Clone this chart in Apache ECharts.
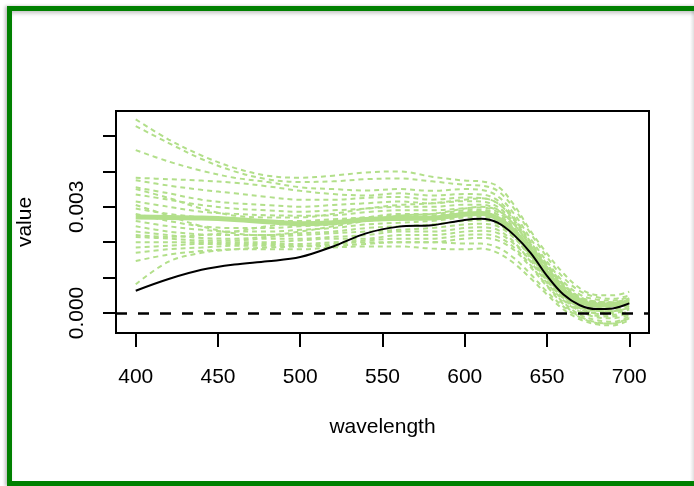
<!DOCTYPE html>
<html>
<head>
<meta charset="utf-8">
<script src="https://cdn.jsdelivr.net/npm/echarts@6/dist/echarts.min.js"></script>
<style>
  html, body { margin:0; padding:0; background:#fff; }
  #wrap { position:relative; width:694px; height:486px; overflow:hidden; background:#fff; }
  #frame { position:absolute; left:7px; top:6px; width:800px; height:470px;
           border:5px solid #008000; box-shadow: -2px 0 3px rgba(0,0,0,0.25), inset 0 4px 4px -2px rgba(0,0,0,0.25); }
  #rshade { position:absolute; left:690px; top:11px; width:4px; height:470px;
            background:linear-gradient(to right, rgba(0,0,0,0), rgba(0,0,0,0.12)); }
  #chart { position:absolute; left:0; top:0; width:694px; height:486px; }
</style>
</head>
<body>
<div id="wrap">
  <div id="frame"></div>
  <div id="rshade"></div>
  <div id="chart"></div>
</div>
<script>
// wavelengths (nm)
const wavelengths = [400,420,440,460,480,500,520,540,560,580,600,610,620,630,640,650,660,670,680,690,700];

// values in units of 0.001
const blackValues = [0.63,0.96,1.22,1.37,1.46,1.58,1.88,2.25,2.44,2.48,2.63,2.66,2.55,2.20,1.70,1.05,0.52,0.22,0.11,0.13,0.27];
const meanValues  = [2.71,2.70,2.68,2.64,2.58,2.52,2.55,2.64,2.67,2.68,2.79,2.81,2.67,2.31,1.75,1.13,0.63,0.33,0.22,0.24,0.32];

const g01 = [5.47,4.90,4.45,4.10,3.88,3.82,3.88,3.97,4.00,3.85,3.74,3.72,3.58,3.05,2.32,1.68,1.12,0.70,0.51,0.50,0.60];
const g02 = [5.28,4.80,4.35,4.00,3.78,3.70,3.72,3.78,3.80,3.72,3.62,3.60,3.45,2.95,2.25,1.58,1.00,0.62,0.45,0.40,0.50];
const g03 = [4.60,4.28,4.02,3.82,3.70,3.55,3.50,3.46,3.50,3.45,3.50,3.48,3.30,2.80,2.10,1.45,0.88,0.52,0.38,0.35,0.45];
const g04 = [3.82,3.78,3.74,3.68,3.58,3.45,3.36,3.32,3.38,3.32,3.36,3.35,3.18,2.70,2.00,1.35,0.80,0.45,0.32,0.30,0.42];
const g05 = [3.75,3.60,3.48,3.38,3.28,3.20,3.20,3.25,3.28,3.20,3.26,3.25,3.10,2.62,1.95,1.30,0.75,0.40,0.28,0.25,0.36];
const g06 = [3.55,3.38,3.20,3.10,3.05,3.00,3.05,3.10,3.15,3.10,3.16,3.15,3.00,2.55,1.88,1.25,0.70,0.36,0.24,0.22,0.32];
const g07 = [3.35,3.20,3.05,2.95,2.90,2.86,2.90,2.95,3.00,3.00,3.06,3.06,2.92,2.50,1.90,1.30,0.78,0.42,0.30,0.28,0.38];
const g08 = [3.15,3.00,2.86,2.80,2.76,2.75,2.76,2.85,2.90,2.90,2.96,2.98,2.85,2.42,1.80,1.18,0.65,0.30,0.18,0.15,0.25];
const g09 = [2.95,2.80,2.70,2.64,2.60,2.60,2.65,2.70,2.80,2.80,2.90,2.92,2.78,2.35,1.72,1.10,0.60,0.27,0.14,0.12,0.22];
const g10 = [2.80,2.60,2.45,2.40,2.40,2.45,2.50,2.60,2.65,2.70,2.80,2.82,2.68,2.28,1.68,1.05,0.55,0.22,0.10,0.10,0.20];
const g11 = [2.60,2.45,2.35,2.30,2.30,2.35,2.40,2.50,2.55,2.60,2.70,2.72,2.60,2.22,1.62,1.00,0.48,0.16,0.06,0.05,0.15];
const g12 = [2.45,2.30,2.22,2.20,2.20,2.25,2.30,2.40,2.45,2.50,2.60,2.62,2.52,2.15,1.55,0.92,0.42,0.10,0.00,0.00,0.10];
const g13 = [2.30,2.20,2.12,2.10,2.15,2.20,2.25,2.30,2.35,2.40,2.50,2.52,2.45,2.12,1.60,0.98,0.48,0.14,-0.02,-0.05,0.05];
const g14 = [2.15,2.10,2.05,2.05,2.10,2.10,2.15,2.20,2.30,2.30,2.40,2.42,2.35,2.00,1.45,0.85,0.36,0.04,-0.08,-0.10,0.00];
const g15 = [2.00,2.00,2.00,2.00,2.00,2.05,2.10,2.10,2.20,2.20,2.30,2.32,2.26,1.95,1.48,0.90,0.40,0.05,-0.12,-0.15,-0.05];
const g16 = [1.85,1.90,1.95,1.95,1.95,1.95,2.00,2.05,2.10,2.10,2.20,2.22,2.15,1.85,1.35,0.78,0.30,-0.05,-0.20,-0.25,-0.10];
const g17 = [1.70,1.80,1.85,1.90,1.90,1.90,1.95,2.00,2.00,2.00,2.10,2.12,2.05,1.78,1.30,0.75,0.25,-0.10,-0.26,-0.30,-0.15];
const g18 = [1.47,1.65,1.75,1.80,1.80,1.80,1.85,1.88,1.88,1.82,1.80,1.82,1.70,1.40,0.98,0.52,0.10,-0.18,-0.32,-0.35,-0.20];
const g19 = [0.81,1.45,1.70,1.80,1.85,1.88,1.90,1.95,2.00,2.00,1.96,1.96,1.85,1.55,1.10,0.60,0.18,-0.12,-0.28,-0.30,-0.12];
const g20 = [3.05,2.75,2.45,2.25,2.20,2.30,2.45,2.60,2.75,2.80,2.95,3.00,2.90,2.50,1.90,1.28,0.75,0.38,0.22,0.20,0.30];
const g21 = [3.50,3.25,2.95,2.75,2.70,2.70,2.80,2.95,3.05,3.10,3.20,3.24,3.10,2.65,2.00,1.38,0.82,0.45,0.32,0.30,0.40];
const g22 = [2.20,2.15,2.20,2.30,2.45,2.55,2.60,2.70,2.75,2.75,2.85,2.88,2.78,2.38,1.75,1.10,0.55,0.20,0.06,0.05,0.15];
const greenCurves = [g01,g02,g03,g04,g05,g06,g07,g08,g09,g10,g11,g12,g13,g14,g15,g16,g17,g18,g19,g20,g21,g22];

const xTicks = [400,450,500,550,600,650,700];
const yTicks = [0,1,2,3,4,5];          // in units of 0.001
const yTickLabels = [0,3];             // labelled ticks (0.000, 0.003)

const FONT = "'Liberation Sans', Arial, Helvetica, sans-serif";
const GREEN = '#b2df8a';

function pairs(vals){ return wavelengths.map((w,i)=>[w, vals[i]]); }

const series = [];
greenCurves.forEach((c, i) => {
  series.push({
    type:'line', name:'g'+(i+1), data: pairs(c), showSymbol:false, smooth:0.35,
    lineStyle:{ color:GREEN, width:2, type:[5,4] }, silent:true, z:2
  });
});
series.push({
  type:'line', name:'mean', data: pairs(meanValues), showSymbol:false, smooth:0.35,
  lineStyle:{ color:GREEN, width:5 }, silent:true, z:3
});
series.push({
  type:'line', name:'spectrum', data: pairs(blackValues), showSymbol:false, smooth:0.35,
  lineStyle:{ color:'#000', width:2 }, silent:true, z:4,
  markLine:{ silent:true, symbol:['none','none'], label:{show:false},
    lineStyle:{ color:'#000', width:2.5, type:[11,11] }, data:[{yAxis:0}] }
});

const chart = echarts.init(document.getElementById('chart'), null, {renderer:'canvas'});
chart.setOption({
  animation:false,
  backgroundColor:'transparent',
  textStyle:{ fontFamily: FONT, color:'#000' },
  grid:{ left:116, top:111, width:533, height:222, show:true, borderColor:'#000', borderWidth:2,
         backgroundColor:'transparent', outerBoundsMode:'none', containLabel:false },
  xAxis:{
    type:'value', min:388, max:712, position:'bottom',
    axisLine:{ show:false, onZero:false }, splitLine:{ show:false },
    axisTick:{ show:true, inside:false, length:14, customValues:xTicks, lineStyle:{ color:'#000', width:2 } },
    axisLabel:{ show:true, customValues:xTicks, margin:34, fontSize:21, color:'#000', fontFamily:FONT },
    name:'wavelength', nameLocation:'middle', nameGap:84,
    nameTextStyle:{ fontSize:21, color:'#000', fontFamily:FONT }
  },
  yAxis:{
    type:'value', min:-0.565, max:5.706, position:'left',
    axisLine:{ show:false, onZero:false }, splitLine:{ show:false },
    axisTick:{ show:true, inside:false, length:13, customValues:yTicks, lineStyle:{ color:'#000', width:2 } },
    axisLabel:{ show:true, customValues:yTickLabels, rotate:90, margin:28, fontSize:21, color:'#000', fontFamily:FONT,
                formatter: v => (v/1000).toFixed(3) },
    name:'value', nameLocation:'middle', nameRotate:90, nameGap:80,
    nameTextStyle:{ fontSize:21, color:'#000', fontFamily:FONT }
  },
  series: series
});
</script>
</body>
</html>
